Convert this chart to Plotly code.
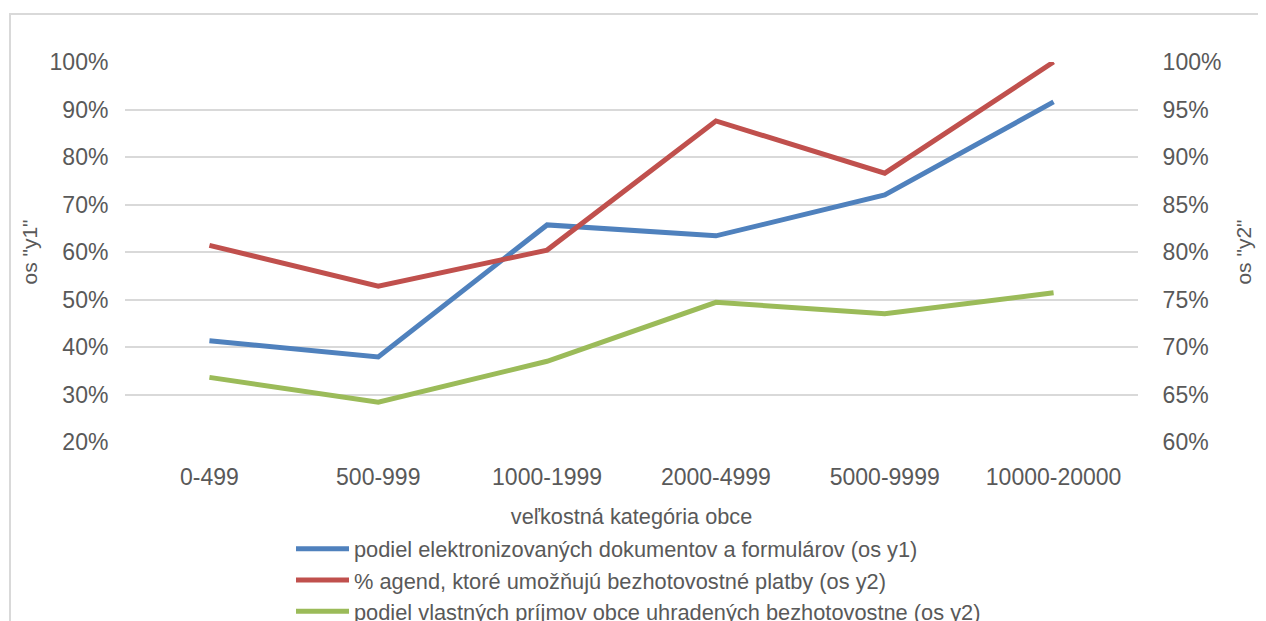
import plotly.graph_objects as go

categories = ["0-499", "500-999", "1000-1999", "2000-4999", "5000-9999", "10000-20000"]
elektronizovane_y1 = [0.413, 0.379, 0.657, 0.634, 0.720, 0.916]
agendy_y2 = [0.807, 0.764, 0.802, 0.938, 0.883, 1.000]
prijmy_y2 = [0.668, 0.642, 0.685, 0.747, 0.735, 0.757]

names = [
    "podiel elektronizovaných dokumentov a formulárov (os y1)",
    "% agend, ktoré umožňujú bezhotovostné platby (os y2)",
    "podiel vlastných príjmov obce uhradených bezhotovostne (os y2)",
]
colors = ["#4F81BD", "#C0504D", "#9BBB59"]

FONT = "Liberation Sans, Arial, sans-serif"
TXT = "#595959"
OFF = 8  # default page body margin
W, H = 1266 - OFF, 650
# plot area in screen pixels
L, R, T, B = 125 - OFF, 1138 - OFF, 62 - OFF, 442 - OFF

fig = go.Figure()
fig.add_trace(go.Scatter(x=categories, y=elektronizovane_y1, name=names[0], mode="lines",
                         line=dict(color=colors[0], width=5), yaxis="y"))
fig.add_trace(go.Scatter(x=categories, y=agendy_y2, name=names[1], mode="lines",
                         line=dict(color=colors[1], width=5), yaxis="y2"))
fig.add_trace(go.Scatter(x=categories, y=prijmy_y2, name=names[2], mode="lines",
                         line=dict(color=colors[2], width=5), yaxis="y2"))

pw = R - L
ph = B - T
def px(x):
    return (x - OFF - L) / pw
def py(y):
    return (B - (y - OFF)) / ph

fig.update_layout(
    width=W, height=H,
    margin=dict(l=L, r=W - R, t=T, b=H - B, autoexpand=False),
    paper_bgcolor="white", plot_bgcolor="white",
    font=dict(family=FONT, color=TXT, size=23),
    xaxis=dict(type="category", range=[-0.5, 5.5], showgrid=False, showline=False,
               ticks="outside", ticklen=14, tickcolor="rgba(0,0,0,0)",
               tickfont=dict(size=23, color=TXT),
               title=dict(text="veľkostná kategória obce", font=dict(size=21.7, color=TXT), standoff=20)),
    yaxis=dict(range=[0.2, 1.0], dtick=0.1, tickformat=".0%", showgrid=True,
               gridcolor="#D9D9D9", gridwidth=1.5, zeroline=False, showline=False,
               ticks="outside", ticklen=11, tickcolor="rgba(0,0,0,0)",
               tickfont=dict(size=23, color=TXT),
               title=dict(text='os "y1"', font=dict(size=21, color=TXT), standoff=6)),
    yaxis2=dict(range=[0.6, 1.0], dtick=0.05, tickformat=".0%", overlaying="y", side="right",
                showgrid=False, zeroline=False, showline=False,
                ticks="outside", ticklen=19, tickcolor="rgba(0,0,0,0)",
                tickfont=dict(size=23, color=TXT),
                title=dict(text='os "y2"', font=dict(size=21, color=TXT), standoff=15)),
    legend=dict(x=px(291), xanchor="left", y=py(528), yanchor="top",
                font=dict(size=21.8, color=TXT), itemwidth=53,
                tracegroupgap=0, bgcolor="rgba(0,0,0,0)"),
    showlegend=True,
    shapes=[dict(type="rect", xref="paper", yref="paper",
                 x0=px(10), x1=px(1263), y0=py(700), y1=py(14),
                 line=dict(color="#D9D9D9", width=2), fillcolor="rgba(0,0,0,0)", layer="below")],
)

fig.write_html("out.html")
